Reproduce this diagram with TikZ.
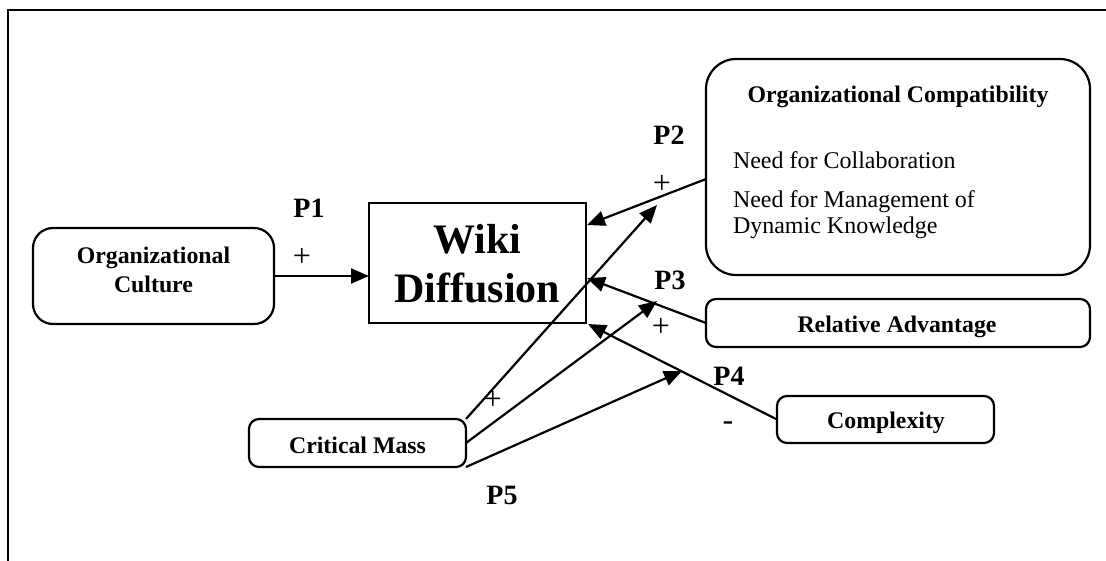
\documentclass[tikz,border=0pt]{standalone}
\usepackage{fontspec}
\setmainfont{Liberation Serif}
\usetikzlibrary{arrows.meta,calc}
\begin{document}
\begin{tikzpicture}[x=1pt,y=-1pt,
  every node/.style={inner sep=0pt, outer sep=0pt},
  rbox/.style={draw, line width=2.2pt, rounded corners=#1, anchor=north west},
  rbox/.default=10pt,
  sbox/.style={draw, line width=2.2pt, anchor=north west},
  lbl/.style={font=\fontsize{23.8}{29}\selectfont\bfseries, align=center},
  body/.style={font=\fontsize{24}{26}\selectfont, anchor=base west},
  big/.style={font=\fontsize{42}{49}\selectfont\bfseries, align=center},
  plab/.style={font=\fontsize{28}{30}\selectfont\bfseries},
  sign/.style={font=\fontsize{32}{34}\selectfont},
  link/.style={line width=2.2pt, -{Triangle[length=18pt,width=15pt]}}
]
\useasboundingbox (0,0) rectangle (1106,560);
\clip (0,0) rectangle (1106,560);

% outer frame (only its top and left edges fall inside the page)
\draw[line width=1.8pt] (8,10) rectangle (1140,600);

% boxes
\node[rbox=20pt, minimum width=241pt, minimum height=96pt] (culture) at (33,228) {};
\node[sbox, minimum width=217pt, minimum height=120pt] (wiki) at (369,203) {};
\node[rbox=30pt, minimum width=384pt, minimum height=216pt] (compat) at (706,59) {};
\node[rbox, minimum width=384pt, minimum height=48pt] (rel) at (706,299) {};
\node[rbox, minimum width=217pt, minimum height=47pt] (cplx) at (777,396) {};
\node[rbox, minimum width=217pt, minimum height=48pt] (mass) at (249,419) {};

% box texts (base anchor sits on the last line)
\node[lbl, anchor=base] (culture-t) at (153.5,292) {Organizational\\Culture};
\node[big, anchor=base] (wiki-t) at (477.5,302) {Wiki\\Diffusion};
\node[lbl, anchor=base] (compat-t) at (898,102) {Organizational Compatibility};
\node[body] (need1) at (733,168) {Need for Collaboration};
\node[body] (need2) at (733,207) {Need for Management of};
\node[body] (need3) at (733,233) {Dynamic Knowledge};
\node[lbl, anchor=base] (rel-t) at (897,332) {Relative Advantage};
\node[lbl, anchor=base] (cplx-t) at (886,428) {Complexity};
\node[lbl, anchor=base] (mass-t) at (357.5,453) {Critical Mass};

% free ends of the critical mass arrows
\coordinate (m1) at (657,205);
\coordinate (m2) at (657,301);
\coordinate (m3) at (682,371);

% connectors
\draw[link] (culture.east) -- (culture.east -| wiki.west);
\draw[link] ($(compat.west)+(0,12)$) -- ($(wiki.north east)+(1,22)$);
\draw[link] (rel.west) -- ($(wiki.east)+(1,15)$);
\draw[link] (cplx.west) -- ($(wiki.south east)+(2,1)$);
\draw[link] (mass.north east) -- (m1);
\draw[link] (mass.east) -- (m2);
\draw[link] (mass.south east) -- (m3);

% proposition labels and signs
\node[plab] (p1) at (309,208) {P1};
\node[sign] (s1) at (302,257) {+};
\node[plab] (p2) at (669,135) {P2};
\node[sign] (s2) at (662,184) {+};
\node[plab] (p3) at (670,280) {P3};
\node[sign] (s3) at (661,327) {+};
\node[plab] (p4) at (729,376) {P4};
\node[sign] (s4) at (728,426) {-};
\node[sign] (s5) at (493,400) {+};
\node[plab] (p5) at (502,495) {P5};
\end{tikzpicture}
\end{document}
